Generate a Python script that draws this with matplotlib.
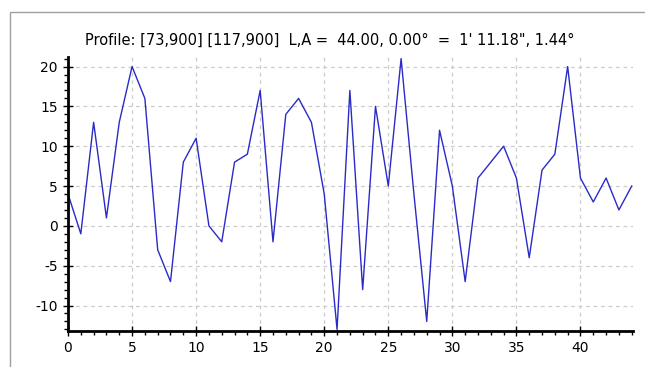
import matplotlib
matplotlib.use("Agg")
import matplotlib.pyplot as plt
from matplotlib.patches import Rectangle
from matplotlib.ticker import MultipleLocator
import numpy as np

# profile samples, one per unit along the line
dist = np.arange(45)
values = [4, -1, 13, 1, 13, 20, 16, -3, -7, 8,
          11, 0, -2, 8, 9, 17, -2, 14, 16, 13,
          4, -13, 17, -8, 15, 5, 21, 4, -12, 12,
          5, -7, 6, 8, 10, 6, -4, 7, 9, 20,
          6, 3, 6, 2, 5]
title = "Profile: [73,900] [117,900]  L,A =  44.00, 0.00\u00b0  =  1' 11.18\", 1.44\u00b0"

plt.rcParams['font.family'] = ['DejaVu Sans']
plt.rcParams['axes.unicode_minus'] = False
fig = plt.figure(figsize=(6.45, 3.67), dpi=100)
fig.patches.append(Rectangle((10/645, -0.1), 1.5, (367-12)/367 + 0.1,
                             transform=fig.transFigure, fill=False,
                             edgecolor='#a0a0a0', linewidth=1))
ax = fig.add_axes([68/645, 36/367, 565/645, 274/367])

ax.plot(dist, values, color='#2a2ac8', linewidth=1.0)

ax.set_xlim(0, 44.1)
ax.set_ylim(-13.2, 21.2)
ax.xaxis.set_major_locator(MultipleLocator(5))
ax.xaxis.set_minor_locator(MultipleLocator(1))
ax.yaxis.set_major_locator(MultipleLocator(5))
ax.yaxis.set_minor_locator(MultipleLocator(1))
ax.grid(True, which='major', linestyle=(0, (3, 3)), color='#cccccc', linewidth=0.9)
ax.set_axisbelow(True)

for s in ['top', 'right']:
    ax.spines[s].set_visible(False)
for s in ['left', 'bottom']:
    ax.spines[s].set_linewidth(2.0)
    ax.spines[s].set_color('black')

ax.tick_params(which='major', direction='inout', length=7, width=1, labelsize=10, pad=4)
ax.tick_params(which='minor', direction='out', length=3, width=1)

fig.text(330/645, 1 - 40/367, title, ha='center', va='center', fontsize=10.5)

plt.savefig('out.png', dpi=100)
plt.close()
